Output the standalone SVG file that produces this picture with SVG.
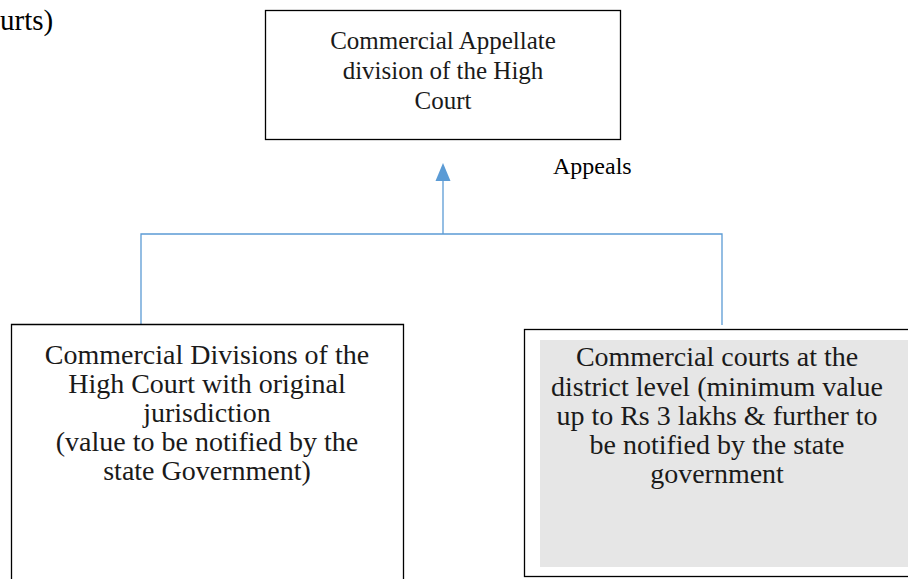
<svg xmlns="http://www.w3.org/2000/svg" width="908" height="579" viewBox="0 0 908 579">
  <defs>
    <style>
      .box { fill: #ffffff; stroke: #000000; stroke-width: 1.3; }
      .label { font-family: "Liberation Serif", "DejaVu Serif", serif; fill: #1a1a1a; text-anchor: middle; }
      .top { font-size: 25px; }
      .low { font-size: 28px; }
      .plain { font-family: "Liberation Serif", "DejaVu Serif", serif; font-size: 24px; fill: #000000; }
      .wire { fill: none; stroke: #5b9bd5; stroke-width: 1.3; }
    </style>
  </defs>

  <rect width="908" height="579" fill="#ffffff"/>

  <!-- trailing fragment of a heading cut off at the left edge -->
  <text class="plain" x="0" y="30" style="font-size:29px">urts)</text>

  <!-- appeal connectors -->
  <g id="connectors">
    <polyline class="wire" points="141,325 141,234 722,234 722,325"/>
    <line class="wire" x1="443" y1="234" x2="443" y2="180"/>
    <path d="M435.5,181 L443,163 L450.5,181 Z" fill="#5b9bd5"/>
    <text class="plain" x="553" y="174">Appeals</text>
  </g>

  <g id="appellate-division">
    <rect class="box" x="265.5" y="10.5" width="355" height="129"/>
    <text class="label top" x="443" y="49">Commercial Appellate</text>
    <text class="label top" x="443" y="79">division of the High</text>
    <text class="label top" x="443" y="109">Court</text>
  </g>

  <g id="high-court-divisions">
    <path class="box" d="M11.5,585 L11.5,324.5 L403.5,324.5 L403.5,585"/>
    <text class="label low" x="207" y="364">Commercial Divisions of the</text>
    <text class="label low" x="207" y="393">High Court with original</text>
    <text class="label low" x="207" y="422">jurisdiction</text>
    <text class="label low" x="207" y="451">(value to be notified by the</text>
    <text class="label low" x="207" y="480">state Government)</text>
  </g>

  <g id="district-courts">
    <rect class="box" x="524.5" y="329.5" width="400" height="247"/>
    <rect x="540" y="340" width="380" height="227" fill="#e6e6e6"/>
    <text class="label low" x="717" y="366">Commercial courts at the</text>
    <text class="label low" x="717" y="396">district level (minimum value</text>
    <text class="label low" x="717" y="425">up to Rs 3 lakhs &amp; further to</text>
    <text class="label low" x="717" y="454">be notified by the state</text>
    <text class="label low" x="717" y="483">government</text>
  </g>
</svg>
